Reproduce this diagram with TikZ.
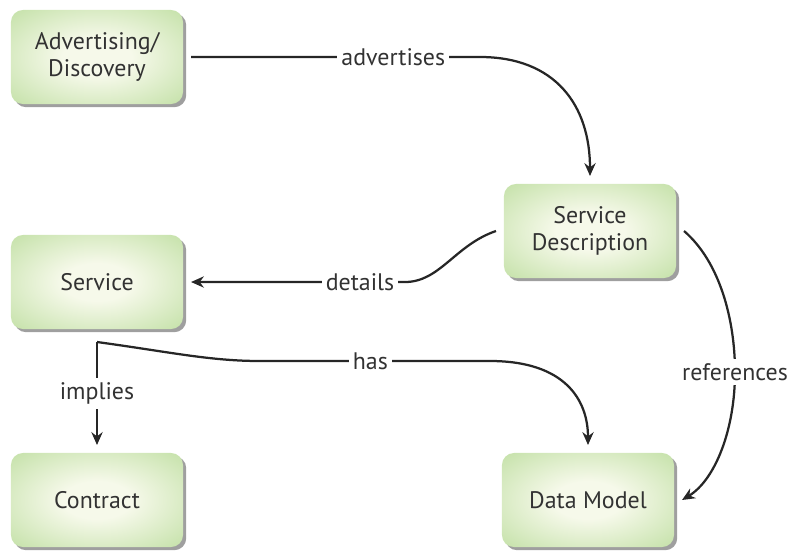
\documentclass[tikz,border=0pt]{standalone}
\usepackage{fontspec}
\setmainfont{PT Sans}
\usepackage{xcolor}
\usepackage{tikz}
\usetikzlibrary{arrows.meta, shadows}

\definecolor{boxinner}{RGB}{246,249,234}
\definecolor{boxouter}{RGB}{184,219,152}
\definecolor{inkgray}{RGB}{50,50,50}
\pgfdeclareradialshading{boxglow}{\pgfpoint{0bp}{0bp}}{color(0bp)=(boxinner); color(10bp)=(boxinner); color(42bp)=(boxouter); color(50bp)=(boxouter)}

\begin{document}
\begin{tikzpicture}[x=0.025cm, y=-0.025cm, font=\fontsize{17}{19.5}\selectfont]
\tikzstyle{block} = [rectangle, rounded corners=0.3cm, minimum width=4.3cm, minimum height=2.35cm, align=center, shading=boxglow, drop shadow={shadow xshift=0.08cm, shadow yshift=-0.08cm, opacity=0.5, fill=black!75}, text=inkgray, outer sep=0.2cm]
\tikzstyle{arrow} = [line width=1.6pt, ->, >={Stealth[length=3.2mm, width=2.8mm]}, draw=black!85]
\tikzstyle{lbl} = [fill=white, text=inkgray, inner sep=3pt]

\useasboundingbox (0,0) rectangle (789,554);

% Left column
\node[block] (adv) at (97,57) {Advertising/\\Discovery};
\node[block] (svc) at (97,282) {Service};
\node[block] (ctr) at (97,500) {Contract};

% Right column
\node[block] (sd) at (590,231) {Service\\Description};
\node[block] (dm) at (588,500) {Data Model};

\coordinate (fork) at (97,342);

% Connections
\draw[arrow] (adv.east) -- node[lbl,pos=0.7]{advertises} (480,57) .. controls (555,57) and (590,105) .. (sd.north);
\draw[arrow] (sd.west) .. controls (455,245) and (440,282) .. (405,282) -- node[lbl,pos=0.21]{details} (svc.east);
\draw[arrow] (fork) .. controls (170,352) and (210,361) .. (260,361) -- node[lbl,pos=0.48]{has} (490,361) .. controls (565,361) and (588,400) .. (dm.north);
\draw[arrow] (fork) -- node[lbl]{implies} (ctr.north);
\draw[arrow] (sd.east) .. controls (720,262) and (735,320) .. (735,372) node[lbl]{references} .. controls (735,430) and (715,480) .. (dm.east);
\end{tikzpicture}
\end{document}
